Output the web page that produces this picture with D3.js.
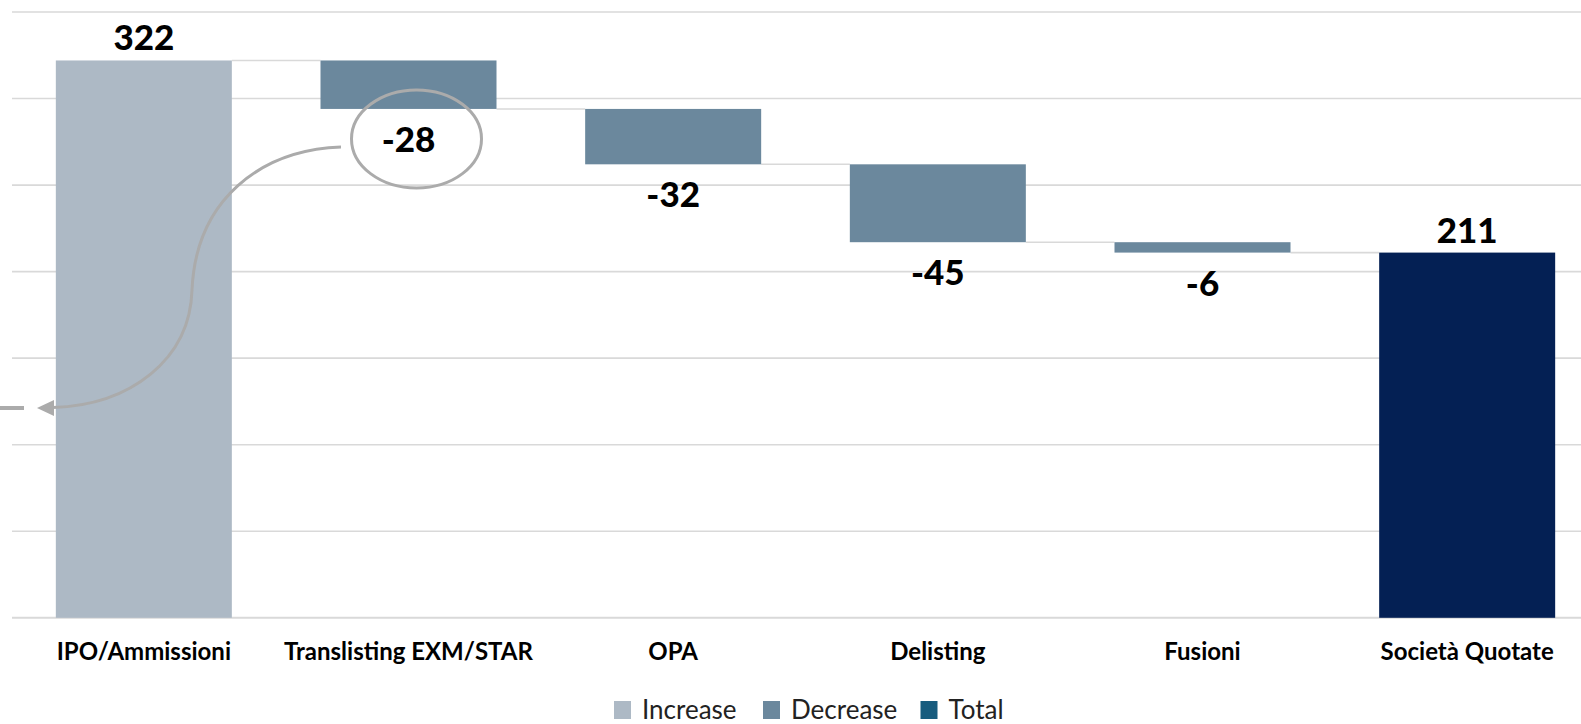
<!DOCTYPE html>
<html>
<head>
<meta charset="utf-8">
<script src="https://cdn.jsdelivr.net/npm/d3@7"></script>
<style>
  html, body { margin: 0; padding: 0; background: #ffffff; }
  svg { display: block; }
</style>
</head>
<body>
<svg id="chart" width="1581" height="724"></svg>
<script>
const categories = ["IPO/Ammissioni", "Translisting EXM/STAR", "OPA", "Delisting", "Fusioni", "Società Quotate"];
const values = [322, -28, -32, -45, -6, 211];
const types = ["increase", "decrease", "decrease", "decrease", "decrease", "total"];
const yTicks = [0, 50, 100, 150, 200, 250, 300, 350];
const legendLabels = ["Increase", "Decrease", "Total"];
const legendKeys = ["increase", "decrease", "legendTotal"];

const colors = {
  increase: "#adb9c5",
  decrease: "#6b889d",
  total: "#042054",
  legendTotal: "#175c7e"
};

const W = 1581, H = 724;
const svg = d3.select("#chart");

const x = d3.scaleBand().domain(categories).range([11.5, 1599.5]).paddingInner(0.335).paddingOuter(0.1675);
const y = d3.scaleLinear().domain([0, 350]).range([617.8, 12]);

// compute waterfall
let running = 0;
const bars = categories.map((c, i) => {
  let start, end;
  if (types[i] === "total") { start = 0; end = values[i]; }
  else { start = running; end = running + values[i]; }
  running = end;
  return { cat: c, value: values[i], type: types[i], start, end };
});

// gridlines
svg.append("g").selectAll("line").data(yTicks).join("line")
  .attr("x1", 12).attr("x2", W)
  .attr("y1", d => y(d)).attr("y2", d => y(d))
  .attr("stroke", "#d9d9d9").attr("stroke-width", d => d === 0 ? 2 : 1.6);

// connectors
svg.append("g").selectAll("line").data(bars.slice(0, -1)).join("line")
  .attr("x1", (d) => x(d.cat) + x.bandwidth())
  .attr("x2", (d, i) => x(categories[i + 1]))
  .attr("y1", d => y(d.end)).attr("y2", d => y(d.end))
  .attr("stroke", "#d9d9d9").attr("stroke-width", 1.6);

// bars
svg.append("g").selectAll("rect").data(bars).join("rect")
  .attr("x", d => x(d.cat))
  .attr("width", x.bandwidth())
  .attr("y", d => y(Math.max(d.start, d.end)))
  .attr("height", d => Math.abs(y(d.start) - y(d.end)))
  .attr("fill", d => colors[d.type]);

// value labels
svg.append("g").selectAll("text").data(bars).join("text")
  .attr("x", d => x(d.cat) + x.bandwidth() / 2)
  .attr("y", d => d.value >= 0 ? y(Math.max(d.start, d.end)) - 10 : y(d.end) + 43)
  .attr("text-anchor", "middle")
  .attr("font-family", "Lato, 'Open Sans', sans-serif")
  .attr("font-weight", "900")
  .attr("font-size", 35)
  .attr("fill", "#000")
  .text(d => String(d.value));

// category labels
svg.append("g").selectAll("text").data(categories).join("text")
  .attr("x", d => x(d) + x.bandwidth() / 2)
  .attr("y", 660)
  .attr("text-anchor", "middle")
  .attr("font-family", "Lato, 'Open Sans', sans-serif")
  .attr("font-weight", "bold")
  .attr("font-size", 24)
  .attr("fill", "#000")
  .text(d => d);

// annotation: ellipse around -28 label, curved arrow
const b2 = bars[1];
const ecx = x(b2.cat) + x.bandwidth() / 2 + 8;
const ecy = y(b2.end) + 30;
const ann = svg.append("g").attr("fill", "none").attr("stroke", "#ababab").attr("stroke-width", 3);
ann.append("ellipse").attr("cx", ecx).attr("cy", ecy).attr("rx", 65).attr("ry", 49);
ann.append("path").attr("d", "M341,147 C260,150 196,200 192,290 C190,360 130,405 53,407.5");
svg.append("path").attr("d", "M37,408 L54,400 L54,416 Z").attr("fill", "#ababab");
svg.append("line").attr("x1", 0).attr("x2", 24).attr("y1", 408).attr("y2", 408)
  .attr("stroke", "#ababab").attr("stroke-width", 4);

// legend
const legendX = [614, 763, 920.5];
const lg = svg.append("g");
legendLabels.forEach((lab, i) => {
  lg.append("rect").attr("x", legendX[i]).attr("y", 701).attr("width", 17).attr("height", 18)
    .attr("fill", colors[legendKeys[i]]);
  lg.append("text").attr("x", legendX[i] + 28).attr("y", 719)
    .attr("font-family", "Lato, 'Open Sans', sans-serif")
    .attr("font-size", 26).attr("fill", "#222")
    .text(lab);
});
</script>
</body>
</html>
